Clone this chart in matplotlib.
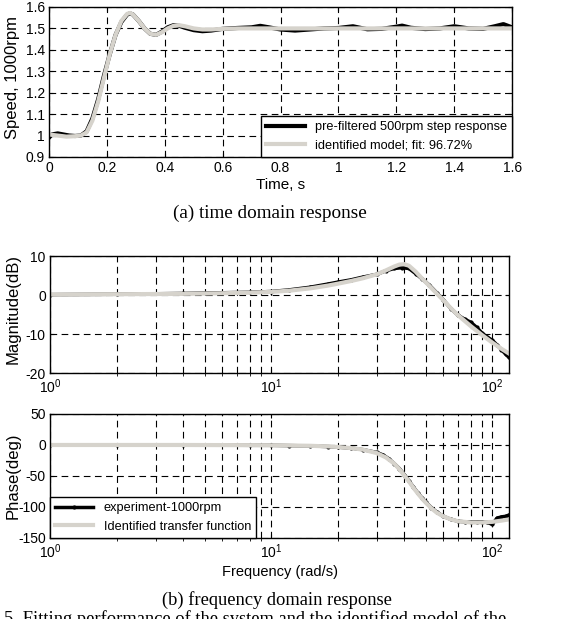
import numpy as np
import matplotlib
matplotlib.use('Agg')
import matplotlib.pyplot as plt
from matplotlib.ticker import LogLocator, NullFormatter

plt.rcParams['font.family'] = ['Liberation Sans', 'DejaVu Sans']
plt.rcParams['font.size'] = 10
plt.rcParams['axes.unicode_minus'] = False

# time domain (s, 1000rpm)
t_exp = [0, 0.01, 0.03, 0.05, 0.07, 0.09, 0.11, 0.13, 0.15, 0.17, 0.19, 0.21, 0.23, 0.25, 0.27, 0.28,
         0.29, 0.31, 0.33, 0.35, 0.37, 0.39, 0.41, 0.43, 0.45, 0.47, 0.50, 0.53, 0.56, 0.60, 0.65, 0.70,
         0.73, 0.76, 0.80, 0.85, 0.90, 0.95, 1.00, 1.05, 1.10, 1.15, 1.20, 1.22, 1.25, 1.30, 1.35, 1.40,
         1.45, 1.50, 1.54, 1.57, 1.60]
y_exp = [0.99, 1.005, 1.01, 1.005, 1.0, 0.998, 1.0, 1.02, 1.08, 1.17, 1.28, 1.38, 1.47, 1.53, 1.565, 1.57,
         1.565, 1.535, 1.5, 1.475, 1.47, 1.485, 1.505, 1.515, 1.512, 1.503, 1.492, 1.487, 1.49, 1.498, 1.502, 1.505,
         1.512, 1.505, 1.495, 1.49, 1.495, 1.5, 1.502, 1.51, 1.496, 1.498, 1.508, 1.513, 1.503, 1.497, 1.5, 1.51,
         1.5, 1.498, 1.51, 1.52, 1.505]
t_mod = [0, 0.03, 0.06, 0.09, 0.11, 0.13, 0.15, 0.17, 0.19, 0.21, 0.23, 0.25, 0.27, 0.28, 0.29, 0.31, 0.33,
         0.35, 0.37, 0.39, 0.41, 0.43, 0.45, 0.47, 0.50, 0.53, 0.56, 0.60, 0.65, 0.70, 0.80, 1.0, 1.2, 1.4, 1.6]
y_mod = [1.005, 1.0, 0.995, 0.997, 1.0, 1.015, 1.07, 1.16, 1.27, 1.38, 1.47, 1.535, 1.568, 1.572, 1.565, 1.535, 1.5,
         1.475, 1.47, 1.482, 1.5, 1.512, 1.515, 1.51, 1.5, 1.495, 1.495, 1.498, 1.5, 1.5, 1.5, 1.5, 1.5, 1.5, 1.5]

# frequency domain (rad/s)
w_exp_mag = [1, 2, 4, 8, 10, 12, 15, 18, 20, 23, 26, 30, 33, 36, 39, 42, 45, 48, 52, 56, 60, 65, 70, 75,
             80, 85, 90, 95, 100, 105, 110, 115, 119]
mag_exp = [0.1, 0.2, 0.4, 0.7, 0.9, 1.3, 2.0, 2.8, 3.3, 3.9, 4.6, 5.3, 6.2, 6.8, 7.0, 6.8, 5.5, 4.2, 2.5, 0.6,
           -1.2, -3.5, -5.2, -6.2, -7.0, -8.3, -9.8, -10.8, -11.6, -12.8, -14.0, -15.2, -16.0]
w_mod_mag = [1, 2, 4, 6, 8, 10, 12, 15, 18, 20, 23, 26, 30, 33, 36, 38, 40, 42, 45, 48, 52, 56, 60, 65, 70,
             80, 90, 100, 110, 119]
mag_mod = [0.1, 0.2, 0.3, 0.45, 0.6, 0.8, 1.1, 1.7, 2.4, 2.9, 3.6, 4.3, 5.3, 6.3, 7.3, 7.8, 7.9, 7.5, 6.0, 4.3,
           2.3, 0.4, -1.3, -3.4, -5.2, -8.0, -10.3, -12.2, -13.8, -15.0]

w_exp_ph = [1, 2, 4, 8, 10, 12, 15, 18, 20, 23, 26, 30, 32, 34, 36, 38, 40, 42, 44, 46, 48, 50, 53, 56, 60,
            65, 70, 75, 80, 85, 90, 95, 100, 105, 110, 115, 119]
ph_exp = [0, 0, 0, -0.5, -0.5, -1, -1.5, -2.5, -3.5, -5, -7.5, -12, -16, -22, -30, -38, -48, -58, -68, -77,
          -85, -92, -101, -108, -115, -120, -123, -124, -124, -124, -124, -125, -128, -118, -116, -115, -113]
w_mod_ph = [1, 2, 4, 8, 10, 12, 15, 18, 20, 23, 26, 30, 33, 36, 38, 40, 42, 44, 46, 48, 50, 53, 56, 60, 65,
            70, 80, 90, 100, 110, 119]
ph_mod = [0, 0, 0, -0.3, -0.5, -0.8, -1.3, -2.3, -3.2, -5, -7.5, -13, -20, -30, -39, -49, -59, -69, -78, -86,
          -93, -102, -109, -115, -120, -123, -125, -125, -124, -122, -120]

grey = '#d6d3cc'
dash = (0, (6, 4))

fig = plt.figure(figsize=(5.62, 6.19), dpi=100)


def style(ax):
    ax.tick_params(direction='in', top=True, right=True, length=3, labelsize=10, pad=3)
    ax.grid(True, which='both', color='k', linestyle=dash, linewidth=0.8)
    for s in ax.spines.values():
        s.set_linewidth(1.0)


# (a) time domain
ax1 = fig.add_axes((0.0872, 0.7464, 0.824, 0.2423))
ax1.plot(t_exp, y_exp, c='k', lw=3, label='pre-filtered 500rpm step response')
ax1.plot(t_mod, y_mod, c=grey, lw=3, label='identified model; fit: 96.72%')
ax1.set_xlim([0, 1.6])
ax1.set_ylim([0.9, 1.6])
ax1.set_xticks(np.arange(0, 1.61, 0.2))
ax1.set_xticklabels(['0', '0.2', '0.4', '0.6', '0.8', '1', '1.2', '1.4', '1.6'])
ax1.set_yticks(np.arange(0.9, 1.61, 0.1))
ax1.set_yticklabels(['0.9', '1', '1.1', '1.2', '1.3', '1.4', '1.5', '1.6'])
style(ax1)
ax1.set_xlabel('Time, s', fontsize=11, labelpad=2)
ax1.set_ylabel('Speed, 1000rpm', fontsize=12)
ax1.yaxis.set_label_coords(-0.063, 0.53)
leg = ax1.legend(loc='lower right', borderaxespad=0, fancybox=False, framealpha=1,
                 edgecolor='k', handlelength=3.0, fontsize=9.2)
leg.get_frame().set_linewidth(1.0)

fig.text(0.48, 0.656, '(a) time domain response', ha='center', va='center',
         family='Liberation Serif', fontsize=13.8)


def logaxis(ax):
    ax.set_xscale('log')
    ax.set_xlim([1, 119])
    ax.xaxis.set_major_locator(LogLocator(base=10))
    ax.xaxis.set_minor_locator(LogLocator(base=10, subs=np.arange(2, 10)))
    ax.xaxis.set_minor_formatter(NullFormatter())


# (b) magnitude
ax2 = fig.add_axes((0.089, 0.3974, 0.8167, 0.189))
ax2.plot(w_exp_mag, mag_exp, c='k', lw=2.5, marker='.', ms=4)
ax2.plot(w_mod_mag, mag_mod, c=grey, lw=3)
logaxis(ax2)
ax2.set_ylim([-20, 10])
ax2.set_yticks([-20, -10, 0, 10])
style(ax2)
ax2.set_ylabel('Magnitude(dB)', fontsize=12)
ax2.yaxis.set_label_coords(-0.065, 0.55)

# (b) phase
ax3 = fig.add_axes((0.089, 0.1309, 0.8167, 0.2003))
ax3.plot(w_exp_ph, ph_exp, c='k', lw=2.5, marker='.', ms=4, label='experiment-1000rpm')
ax3.plot(w_mod_ph, ph_mod, c=grey, lw=3, label='Identified transfer function')
logaxis(ax3)
ax3.set_ylim([-150, 50])
ax3.set_yticks([-150, -100, -50, 0, 50])
style(ax3)
ax3.set_xlabel('Frequency (rad/s)', fontsize=10.5, labelpad=3)
ax3.set_ylabel('Phase(deg)', fontsize=12)
ax3.yaxis.set_label_coords(-0.065, 0.5)
leg3 = ax3.legend(loc='lower left', borderaxespad=0, fancybox=False, framealpha=1,
                  edgecolor='k', handlelength=3.0, fontsize=9.2)
leg3.get_frame().set_linewidth(1.0)

fig.text(0.493, 0.031, '(b) frequency domain response', ha='center', va='center',
         family='Liberation Serif', fontsize=13.3)
fig.text(0.008, -0.008, '5. Fitting performance of the system and the identified model of the',
         ha='left', va='baseline', family='Liberation Serif', fontsize=13.3)

fig.savefig('out.png', dpi=100)
